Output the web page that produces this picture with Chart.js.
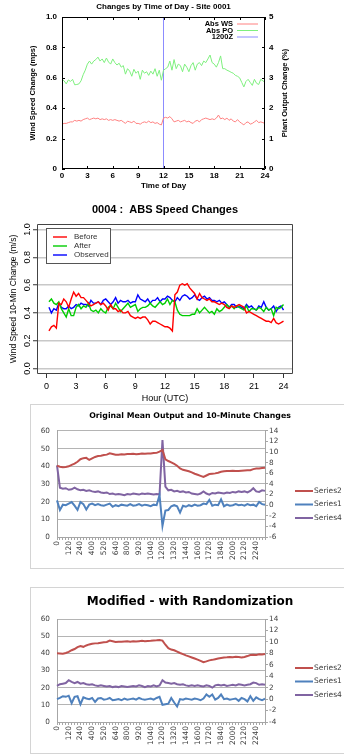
<!DOCTYPE html>
<html>
<head>
<meta charset="utf-8">
<script src="https://cdn.jsdelivr.net/npm/chart.js@4"></script>
<style>
html, body { margin: 0; padding: 0; background: #fff; width: 344px; height: 754px; overflow: hidden; }
canvas { position: absolute; }
#c1 { left: 0; top: 0; }
#c2 { left: 0; top: 195px; }
.xl { position: absolute; left: 30px; width: 320px; border: 1px solid #d4d4d4; box-sizing: border-box; background: #fff; }
.xl canvas { left: 0; top: 0; }
#w3 { top: 404px; height: 165px; }
#w4 { top: 587px; height: 167px; }
</style>
</head>
<body>
<canvas id="c1" width="344" height="195"></canvas>
<canvas id="c2" width="344" height="209"></canvas>
<div class="xl" id="w3"><canvas id="c3" width="318" height="163"></canvas></div>
<div class="xl" id="w4"><canvas id="c4" width="318" height="165"></canvas></div>
<script>
// ---- chart 1: gnuplot style, every 15 min
const absWs = [0.295,
  0.30, 0.30, 0.305, 0.31,   0.31, 0.32, 0.315, 0.32,   0.315, 0.325, 0.33, 0.335,
  0.325, 0.33, 0.335, 0.33,  0.335, 0.325, 0.33, 0.325, 0.33, 0.32, 0.325, 0.32,
  0.325, 0.32, 0.315, 0.32,  0.31, 0.30, 0.315, 0.31,   0.305, 0.315, 0.30, 0.30,
  0.295, 0.305, 0.31, 0.305, 0.315, 0.305, 0.31, 0.30,  0.305, 0.295, 0.29, 0.335,
  0.34, 0.335, 0.345, 0.33,  0.31, 0.315, 0.32, 0.31,   0.315, 0.32, 0.31, 0.315,
  0.305, 0.30, 0.315, 0.32,  0.31, 0.325, 0.33, 0.335,  0.33, 0.325, 0.33, 0.325,
  0.335, 0.355, 0.33, 0.335, 0.325, 0.335, 0.32, 0.33,  0.315, 0.31, 0.325, 0.31,
  0.30, 0.29, 0.305, 0.31,   0.295, 0.30, 0.31, 0.32,   0.305, 0.31, 0.305, 0.30];
const absPo = [2.95,
  2.90, 2.80, 2.93, 2.88,  2.95, 2.77, 2.78, 2.80,  2.90, 3.10, 3.25, 3.45,
  3.55, 3.45, 3.55, 3.60,  3.68, 3.55, 3.62, 3.50,  3.65, 3.52, 3.45, 3.62,
  3.50, 3.42, 3.48, 3.35,  3.40, 3.12, 3.30, 3.22,  3.05, 3.28, 3.15, 3.22,
  2.95, 3.25, 3.15, 3.20,  3.08, 3.22, 3.12, 3.30,  3.05, 3.25, 2.92, 3.25,
  3.30, 3.35, 3.55, 3.25,  3.60, 3.30, 3.45, 3.40,  3.20, 3.45, 3.35, 3.20,
  3.40, 3.50, 3.25, 3.45,  3.50, 3.40, 3.55, 3.50,  3.62, 3.75, 3.50, 3.45,
  3.35, 3.50, 3.72, 3.30,  3.30, 3.25, 3.22, 3.18,  3.15, 3.08, 3.05, 3.00,
  2.85, 2.70, 2.88, 2.95,  2.85, 2.75, 2.95, 2.82,  2.78, 2.95, 2.90, 2.85];
const markerHour = 12;
const hours1 = absWs.map((_, i) => i * 0.25);

// ---- chart 2: R style, every 15 min from 00:15
const before = [
  0.27, 0.30, 0.31, 0.29,  0.47, 0.46, 0.50, 0.48,  0.44, 0.50, 0.55, 0.52,
  0.54, 0.51, 0.51, 0.49,  0.47, 0.45, 0.46, 0.47,  0.48, 0.46, 0.47, 0.45,
  0.42, 0.46, 0.43, 0.43,  0.41, 0.42, 0.40, 0.40,  0.41, 0.38, 0.37, 0.36,
  0.37, 0.36, 0.37, 0.37,  0.35, 0.32, 0.34, 0.34,  0.33, 0.32, 0.31, 0.30,
  0.30, 0.29, 0.27, 0.53,  0.55, 0.60, 0.61, 0.60,  0.61, 0.58, 0.56, 0.54,
  0.50, 0.54, 0.51, 0.50,  0.49, 0.50, 0.48, 0.48,  0.47, 0.46, 0.47, 0.46,
  0.44, 0.43, 0.45, 0.44,  0.45, 0.46, 0.45, 0.44,  0.40, 0.41, 0.40, 0.39,
  0.38, 0.37, 0.36, 0.35,  0.34, 0.34, 0.33, 0.36,  0.33, 0.32, 0.33, 0.34];
const after = [
  0.48, 0.50, 0.47, 0.46,  0.48, 0.43, 0.40, 0.37,  0.43, 0.38, 0.38, 0.44,
  0.46, 0.43, 0.45, 0.44,  0.47, 0.42, 0.41, 0.42,  0.40, 0.43, 0.41, 0.40,
  0.44, 0.45, 0.43, 0.47,  0.44, 0.41, 0.43, 0.45,  0.47, 0.44, 0.45, 0.46,
  0.41, 0.43, 0.44, 0.44,  0.45, 0.47, 0.45, 0.44,  0.46, 0.48, 0.46, 0.47,
  0.50, 0.46, 0.49, 0.48,  0.42, 0.39, 0.38, 0.38,  0.38, 0.38, 0.39, 0.39,
  0.43, 0.40, 0.42, 0.44,  0.42, 0.40, 0.41, 0.39,  0.43, 0.41, 0.42, 0.44,
  0.46, 0.44, 0.45, 0.43,  0.45, 0.44, 0.43, 0.42,  0.45, 0.41, 0.43, 0.43,
  0.42, 0.44, 0.43, 0.41,  0.44, 0.42, 0.43, 0.38,  0.44, 0.43, 0.44, 0.46];
const observed = [
  0.44, 0.40, 0.43, 0.42,  0.47, 0.44, 0.43, 0.43,  0.45, 0.43, 0.44, 0.46,
  0.45, 0.47, 0.46, 0.46,  0.45, 0.49, 0.47, 0.47,  0.48, 0.46, 0.49, 0.50,
  0.48, 0.46, 0.48, 0.51,  0.47, 0.49, 0.48, 0.48,  0.49, 0.47, 0.48, 0.48,
  0.53, 0.50, 0.49, 0.48,  0.50, 0.47, 0.49, 0.49,  0.51, 0.48, 0.50, 0.50,
  0.52, 0.51, 0.49, 0.48,  0.51, 0.49, 0.52, 0.53,  0.52, 0.50, 0.51, 0.53,
  0.50, 0.49, 0.51, 0.52,  0.50, 0.51, 0.49, 0.49,  0.48, 0.49, 0.47, 0.48,
  0.46, 0.44, 0.46, 0.46,  0.44, 0.45, 0.44, 0.43,  0.46, 0.44, 0.45, 0.43,
  0.42, 0.45, 0.44, 0.48,  0.44, 0.42, 0.43, 0.45,  0.41, 0.44, 0.45, 0.42];
const hours2 = before.map((_, i) => (i + 1) * 0.25);
const hourTicks = [0, 3, 6, 9, 12, 15, 18, 21, 24];
const speedTicks = [0, 0.2, 0.4, 0.6, 0.8, 1.0];

// ---- charts 3 and 4: Excel style, every 20 min (HHMM)
const timeLabels = [
  '0', '20', '40', '100', '120', '140', '200', '220', '240', '300', '320', '340',
  '400', '420', '440', '500', '520', '540', '600', '620', '640', '700', '720', '740',
  '800', '820', '840', '900', '920', '940', '1000', '1020', '1040', '1100', '1120', '1140',
  '1200', '1220', '1240', '1300', '1320', '1340', '1400', '1420', '1440', '1500', '1520', '1540',
  '1600', '1620', '1640', '1700', '1720', '1740', '1800', '1820', '1840', '1900', '1920', '1940',
  '2000', '2020', '2040', '2100', '2120', '2140', '2200', '2220', '2240', '2300', '2320', '2340'];
const shownTimes = ['0', '120', '240', '400', '520', '640', '800', '920', '1040', '1200',
  '1320', '1440', '1600', '1720', '1840', '2000', '2120', '2240'];

const origSeries2 = [
  40.4, 39.8, 39.5, 39.6, 40.0, 40.8, 41.5, 42.6, 44.0, 44.6, 44.8, 43.6,
  44.5, 45.3, 45.8, 46.0, 46.4, 46.6, 47.4, 47.0, 46.5, 46.6, 46.8, 46.7,
  47.0, 46.9, 47.1, 46.8, 47.0, 47.2, 47.1, 47.3, 47.2, 47.5, 47.6, 48.3,
  49.2, 44.0, 43.0, 42.2, 41.4, 40.3, 38.8, 38.0, 37.6, 37.2, 36.6, 35.8,
  35.2, 34.6, 34.0, 34.8, 35.6, 35.8, 36.0, 36.4, 36.9, 37.2, 37.4, 37.3,
  37.5, 37.4, 37.3, 37.5, 37.6, 37.7, 37.8, 38.4, 38.8, 38.7, 39.0, 39.2];
const origSeries1 = [
  0.9, -0.9, 0.1, 0.0, 0.3, 0.6, -0.1, -0.9, 0.6, 0.2, -0.8, 0.1,
  0.3, 0.0, 0.2, 0.0, -0.1, 0.1, 0.3, -0.3, 0.0, -0.2, 0.1, 0.0,
  -0.1, 0.2, -0.1, 0.0, 0.2, -0.1, 0.1, 0.0, -0.2, 0.1, 0.0, 1.9,
  -3.9, -1.0, -0.9, -0.2, 0.0, -0.2, -1.4, -0.1, -0.3, 0.0, -0.2, 0.1,
  -0.1, 0.0, 0.3, 0.2, 1.0, -0.1, 0.1, 0.0, 1.1, -0.2, 0.1, -0.1,
  0.0, 0.2, 0.0, 0.1, -0.1, 0.2, 0.0, 0.1, -0.2, 0.6, 0.2, 0.1];
const origSeries4 = [
  7.5, 3.3, 3.1, 3.2, 2.9, 3.0, 3.3, 3.0, 2.8, 2.9, 2.7, 2.8,
  2.6, 2.5, 2.6, 2.4, 2.3, 2.4, 2.1, 2.2, 2.0, 2.1, 2.0, 1.9,
  2.1, 2.0, 2.2, 2.1, 2.0, 2.2, 2.1, 2.2, 2.1, 2.0, 2.1, 2.0,
  12.3, 3.5, 2.8, 2.9, 2.6, 2.7, 2.5, 2.6, 2.4, 2.5, 2.2, 2.1,
  2.0, 2.2, 2.6, 2.2, 2.0, 2.3, 2.2, 2.4, 2.3, 2.2, 2.4, 2.3,
  2.5, 2.4, 2.6, 2.5, 2.6, 2.4, 2.7, 3.2, 2.6, 2.5, 2.8, 2.7];

const modSeries2 = [
  40.0, 39.9, 39.8, 40.2, 40.8, 41.8, 42.5, 43.6, 44.3, 43.8, 44.6, 45.2,
  45.6, 45.8, 45.9, 46.2, 46.4, 46.6, 47.4, 47.0, 46.6, 46.8, 46.7, 46.9,
  47.0, 46.8, 47.0, 46.9, 47.1, 47.3, 47.1, 47.2, 47.3, 47.5, 47.6, 47.8,
  47.4, 45.0, 43.0, 42.2, 41.8, 41.0, 40.2, 39.5, 38.8, 38.2, 37.6, 37.0,
  36.3, 35.6, 34.8, 35.3, 35.9, 36.2, 36.6, 37.0, 37.3, 37.6, 37.7, 37.9,
  37.7, 38.0, 37.8, 37.6, 37.9, 38.4, 39.0, 39.2, 39.1, 39.4, 39.3, 39.6];
const modSeries1 = [
  0.0, 0.2, 0.5, 0.4, 0.6, -0.7, 0.4, 0.5, -0.9, 0.3, 0.1, 0.0,
  0.2, -0.5, 0.1, 0.2, -0.1, 0.0, 0.2, -0.2, -0.1, 0.0, -0.2, 0.1,
  -0.1, 0.0, 0.1, -0.1, 0.2, 0.0, -0.1, 0.0, 0.1, -0.1, 0.2, 0.4,
  -1.0, -0.9, -0.8, 0.2, -0.6, -1.3, 0.0, -0.1, 0.1, 0.0, -0.1, 0.1,
  0.0, -0.2, 0.1, 0.8, 0.4, 0.8, -0.1, 0.2, 0.8, 0.0, 0.1, -0.1,
  0.0, 0.1, -0.3, 0.2, 0.0, -0.4, 0.5, -0.3, 0.3, 0.0, -0.2, 0.1];
const modSeries4 = [
  2.3, 2.6, 2.7, 2.8, 3.3, 3.0, 2.8, 3.0, 2.7, 2.8, 2.6, 2.5,
  2.6, 2.4, 2.3, 2.4, 2.3, 2.2, 2.3, 2.1, 2.2, 2.1, 2.3, 2.2,
  2.1, 2.2, 2.3, 2.2, 2.4, 2.3, 2.1, 2.3, 2.2, 2.4, 2.2, 2.4,
  3.3, 2.9, 2.8, 2.7, 2.8, 2.6, 2.5, 2.6, 2.4, 2.3, 2.4, 2.3,
  2.4, 2.3, 2.2, 2.4, 2.3, 2.0, 2.4, 2.5, 2.4, 2.5, 2.3, 2.4,
  2.5, 2.4, 2.6, 2.5, 2.4, 2.5, 2.6, 2.9, 2.8, 2.5, 2.6, 2.5];

// ---- small plugins
const plotTitle = {
  id: 'plotTitle',
  afterDraw(chart, args, o) {
    const { ctx, chartArea: a } = chart;
    ctx.save();
    ctx.font = o.cssFont;
    ctx.fillStyle = o.color;
    ctx.textAlign = 'center';
    ctx.textBaseline = 'middle';
    ctx.fillText(o.text, (a.left + a.right) / 2, o.y);
    ctx.restore();
  }
};

const sideText = {
  id: 'sideText',
  afterDraw(chart, args, o) {
    const { ctx, chartArea: a } = chart;
    ctx.save();
    ctx.translate(o.x, (a.top + a.bottom) / 2);
    ctx.rotate(-Math.PI / 2);
    ctx.font = o.cssFont;
    ctx.fillStyle = o.color;
    ctx.textAlign = 'center';
    ctx.textBaseline = 'middle';
    ctx.fillText(o.text, 0, 0);
    ctx.restore();
  }
};

// R draws y tick labels parallel to the axis
const uprightTicks = {
  id: 'uprightTicks',
  afterDraw(chart, args, o) {
    const ctx = chart.ctx;
    const s = chart.scales.y;
    ctx.save();
    ctx.font = o.cssFont;
    ctx.fillStyle = o.color;
    ctx.textAlign = 'center';
    ctx.textBaseline = 'middle';
    s.ticks.forEach(t => {
      ctx.save();
      ctx.translate(o.x, s.getPixelForValue(t.value));
      ctx.rotate(-Math.PI / 2);
      ctx.fillText(t.value.toFixed(1), 0, 0);
      ctx.restore();
    });
    ctx.restore();
  }
};

const framePlugin = {
  id: 'frame',
  afterDatasetsDraw(chart, args, o) {
    const { ctx, chartArea: a } = chart;
    ctx.save();
    ctx.strokeStyle = o.color;
    ctx.lineWidth = 1;
    ctx.beginPath();
    ctx.rect(a.left + 0.5, a.top + 0.5, a.right - a.left - 1, a.bottom - a.top - 1);
    if (o.tick) {
      Object.values(chart.scales).forEach(s => {
        s.ticks.forEach(t => {
          const p = Math.round(s.getPixelForValue(t.value)) + 0.5;
          if (s.isHorizontal()) {
            ctx.moveTo(p, a.bottom); ctx.lineTo(p, a.bottom - o.tick);
            ctx.moveTo(p, a.top); ctx.lineTo(p, a.top + o.tick);
          } else if (s.position === 'left') {
            ctx.moveTo(a.left, p); ctx.lineTo(a.left + o.tick, p);
          } else {
            ctx.moveTo(a.right, p); ctx.lineTo(a.right - o.tick, p);
          }
        });
      });
    }
    ctx.stroke();
    ctx.restore();
  }
};

const lineLegend = {
  id: 'lineLegend',
  afterDraw(chart, args, o) {
    const ctx = chart.ctx;
    ctx.save();
    if (o.boxW) {
      ctx.fillStyle = '#fff';
      ctx.fillRect(o.boxX, o.boxY, o.boxW, o.boxH);
      ctx.strokeStyle = o.boxColor;
      ctx.lineWidth = 1;
      ctx.strokeRect(o.boxX + 0.5, o.boxY + 0.5, o.boxW, o.boxH);
    }
    ctx.font = o.cssFont;
    ctx.textBaseline = 'middle';
    ctx.textAlign = o.textAlign;
    chart.data.datasets.forEach((ds, i) => {
      const y = o.y + i * o.dy;
      ctx.strokeStyle = ds.borderColor;
      ctx.lineWidth = o.lineWidth;
      ctx.beginPath();
      ctx.moveTo(o.x, y);
      ctx.lineTo(o.x + o.len, y);
      ctx.stroke();
      ctx.fillStyle = o.color;
      ctx.fillText(ds.label, o.textX, y);
    });
    ctx.restore();
  }
};

function pts(xs, ys) {
  return ys.map((y, i) => ({ x: xs[i], y }));
}

const gp = 'Liberation Sans';
const base = {
  responsive: false,
  animation: false,
  events: [],
  elements: { point: { radius: 0 }, line: { tension: 0 } }
};

// ---- chart 1
new Chart(document.getElementById('c1'), {
  type: 'line',
  data: {
    datasets: [
      { label: 'Abs WS', data: pts(hours1, absWs), borderColor: '#ff8080', borderWidth: 1, yAxisID: 'y' },
      { label: 'Abs PO', data: pts(hours1, absPo), borderColor: '#7ef07e', borderWidth: 1, yAxisID: 'y2' },
      { label: '1200Z', data: [{ x: markerHour, y: 0 }, { x: markerHour, y: 1 }], borderColor: '#8c8cff', borderWidth: 1, yAxisID: 'y' }
    ]
  },
  options: {
    ...base,
    layout: { padding: { top: 17 } },
    plugins: {
      legend: { display: false },
      tooltip: { enabled: false },
      plotTitle: { text: 'Changes by Time of Day - Site 0001', y: 7, cssFont: 'bold 8px "Liberation Sans"', color: '#000' },
      sideText: { text: 'Plant Output Change (%)', x: 285, cssFont: 'bold 7.5px "Liberation Sans"', color: '#000' },
      frame: { color: '#000', tick: 3 },
      lineLegend: { x: 237, len: 21, textX: 233, textAlign: 'right', y: 24, dy: 6.5, cssFont: 'bold 7.5px "Liberation Sans"', color: '#000', lineWidth: 1 }
    },
    scales: {
      x: {
        type: 'linear', min: 0, max: 24,
        ticks: { stepSize: 3, padding: 2.2, color: '#000', font: { family: gp, size: 8, weight: 'bold' } },
        grid: { display: false, drawTicks: false },
        border: { display: false },
        title: { display: true, text: 'Time of Day', color: '#000', font: { family: gp, size: 8, weight: 'bold' }, padding: { top: 0, bottom: 4 } },
        afterFit: s => { s.height = 26; }
      },
      y: {
        position: 'left', min: 0, max: 1,
        ticks: { stepSize: 0.2, padding: 5, color: '#000', font: { family: gp, size: 8, weight: 'bold' } },
        grid: { display: false, drawTicks: false },
        border: { display: false },
        title: { display: true, text: 'Wind Speed Change (mps)', color: '#000', font: { family: gp, size: 7.5, weight: 'bold' }, padding: { top: 28.5, bottom: 0 } },
        afterFit: s => { s.width = 62; }
      },
      y2: {
        position: 'right', min: 0, max: 5,
        ticks: { stepSize: 1, padding: 4, color: '#000', font: { family: gp, size: 8, weight: 'bold' } },
        grid: { display: false, drawTicks: false },
        border: { display: false },
        afterFit: s => { s.width = 79; }
      }
    }
  },
  plugins: [plotTitle, sideText, framePlugin, lineLegend]
});

// ---- chart 2
new Chart(document.getElementById('c2'), {
  type: 'line',
  data: {
    datasets: [
      { label: 'Before', data: pts(hours2, before), borderColor: '#ff0000', borderWidth: 1.4 },
      { label: 'After', data: pts(hours2, after), borderColor: '#00cd00', borderWidth: 1.4 },
      { label: 'Observed', data: pts(hours2, observed), borderColor: '#0000ff', borderWidth: 1.4 }
    ]
  },
  options: {
    ...base,
    layout: { padding: { top: 29, right: 51 } },
    plugins: {
      legend: { display: false },
      tooltip: { enabled: false },
      plotTitle: { text: '0004 :  ABS Speed Changes', y: 15, cssFont: 'bold 11px "Liberation Sans"', color: '#000' },
      uprightTicks: { x: 28, cssFont: '9px "Liberation Sans"', color: '#000' },
      frame: { color: '#444', tick: 0 },
      lineLegend: {
        boxX: 46, boxY: 33, boxW: 64, boxH: 35, boxColor: '#555',
        x: 53, len: 14, textX: 74, textAlign: 'left', y: 42, dy: 9,
        cssFont: '8px "Liberation Sans"', color: '#333', lineWidth: 1.4
      }
    },
    scales: {
      x: {
        type: 'linear', min: -0.96, max: 24.96,
        afterBuildTicks: s => { s.ticks = hourTicks.map(v => ({ value: v })); },
        ticks: { padding: 3.6, color: '#000', font: { family: gp, size: 9 } },
        grid: { drawOnChartArea: false, drawTicks: true, tickLength: 4, color: '#333', tickColor: '#333' },
        border: { display: false },
        title: { display: true, text: 'Hour (UTC)', color: '#000', font: { family: gp, size: 9 }, padding: { top: 0, bottom: 0 } },
        afterFit: s => { s.height = 30; }
      },
      y: {
        type: 'linear', min: -0.04, max: 1.04,
        afterBuildTicks: s => { s.ticks = speedTicks.map(v => ({ value: v })); },
        ticks: { display: false },
        grid: { color: '#c8c8c8', lineWidth: 1.5, drawTicks: true, tickLength: 4, tickColor: '#333', tickWidth: 1 },
        border: { display: false },
        title: { display: true, text: 'Wind Speed 10-Min Change (m/s)', color: '#000', font: { family: gp, size: 8.5 }, padding: { top: 9, bottom: 0 } },
        afterFit: s => { s.width = 37; }
      }
    }
  },
  plugins: [plotTitle, uprightTicks, framePlugin, lineLegend]
});

// ---- charts 3 and 4
const xlFont = 'DejaVu Sans';
const xlAxis = '#a6a6a6';
function excelScales(rightMin, xHeight) {
  return {
    x: {
      type: 'category',
      ticks: {
        autoSkip: false, minRotation: 90, maxRotation: 90, padding: 1,
        color: '#404040', font: { family: xlFont, size: 7.5 },
        callback(v) { const t = this.getLabelForValue(v); return shownTimes.includes(t) ? t : ''; }
      },
      grid: { drawOnChartArea: false, drawTicks: true, tickLength: 3, color: xlAxis },
      border: { color: xlAxis },
      afterFit: s => { s.height = xHeight; }
    },
    y: {
      position: 'left', min: 0, max: 60,
      ticks: { stepSize: 10, autoSkip: false, padding: 7, color: '#404040', font: { family: xlFont, size: 7.3 } },
      grid: { color: '#b4b4b4', drawTicks: false },
      border: { color: xlAxis },
      afterFit: s => { s.width = 26; }
    },
    y1: {
      position: 'right', min: rightMin, max: 14,
      ticks: { stepSize: 2, autoSkip: false, padding: 1, color: '#404040', font: { family: xlFont, size: 7.3 } },
      grid: { drawOnChartArea: false, drawTicks: true, tickLength: 3, color: xlAxis },
      border: { color: xlAxis },
      // the side legend sits in this strip, so the title stays centred on the whole frame
      afterFit: s => { s.width = 84; }
    }
  };
}
const xlRed = '#c0504d', xlBlue = '#4f81bd', xlPurple = '#8064a2';

new Chart(document.getElementById('c3'), {
  type: 'line',
  data: {
    labels: timeLabels,
    datasets: [
      { label: 'Series2', data: origSeries2, borderColor: xlRed, borderWidth: 2, yAxisID: 'y' },
      { label: 'Series1', data: origSeries1, borderColor: xlBlue, borderWidth: 2, yAxisID: 'y1' },
      { label: 'Series4', data: origSeries4, borderColor: xlPurple, borderWidth: 2, yAxisID: 'y1' }
    ]
  },
  options: {
    ...base,
    plugins: {
      legend: { display: false },
      tooltip: { enabled: false },
      title: { display: true, text: 'Original Mean Output and 10-Minute Changes', color: '#000', font: { family: xlFont, size: 7.8, weight: 'bold' }, padding: { top: 6, bottom: 10.6 } },
      lineLegend: { x: 264, len: 18, textX: 283, textAlign: 'left', y: 86, dy: 13.5, cssFont: '7.5px "DejaVu Sans"', color: '#404040', lineWidth: 2 }
    },
    scales: excelScales(-6, 31)
  },
  plugins: [lineLegend]
});

new Chart(document.getElementById('c4'), {
  type: 'line',
  data: {
    labels: timeLabels,
    datasets: [
      { label: 'Series2', data: modSeries2, borderColor: xlRed, borderWidth: 2, yAxisID: 'y' },
      { label: 'Series1', data: modSeries1, borderColor: xlBlue, borderWidth: 2, yAxisID: 'y1' },
      { label: 'Series4', data: modSeries4, borderColor: xlPurple, borderWidth: 2, yAxisID: 'y1' }
    ]
  },
  options: {
    ...base,
    plugins: {
      legend: { display: false },
      tooltip: { enabled: false },
      title: { display: true, text: 'Modified - with Randomization', color: '#000', font: { family: xlFont, size: 12, weight: 'bold' }, padding: { top: 6.8, bottom: 9.8 } },
      lineLegend: { x: 264, len: 18, textX: 283, textAlign: 'left', y: 80, dy: 13.5, cssFont: '7.5px "DejaVu Sans"', color: '#404040', lineWidth: 2 }
    },
    scales: excelScales(-4, 31)
  },
  plugins: [lineLegend]
});
</script>
</body>
</html>
